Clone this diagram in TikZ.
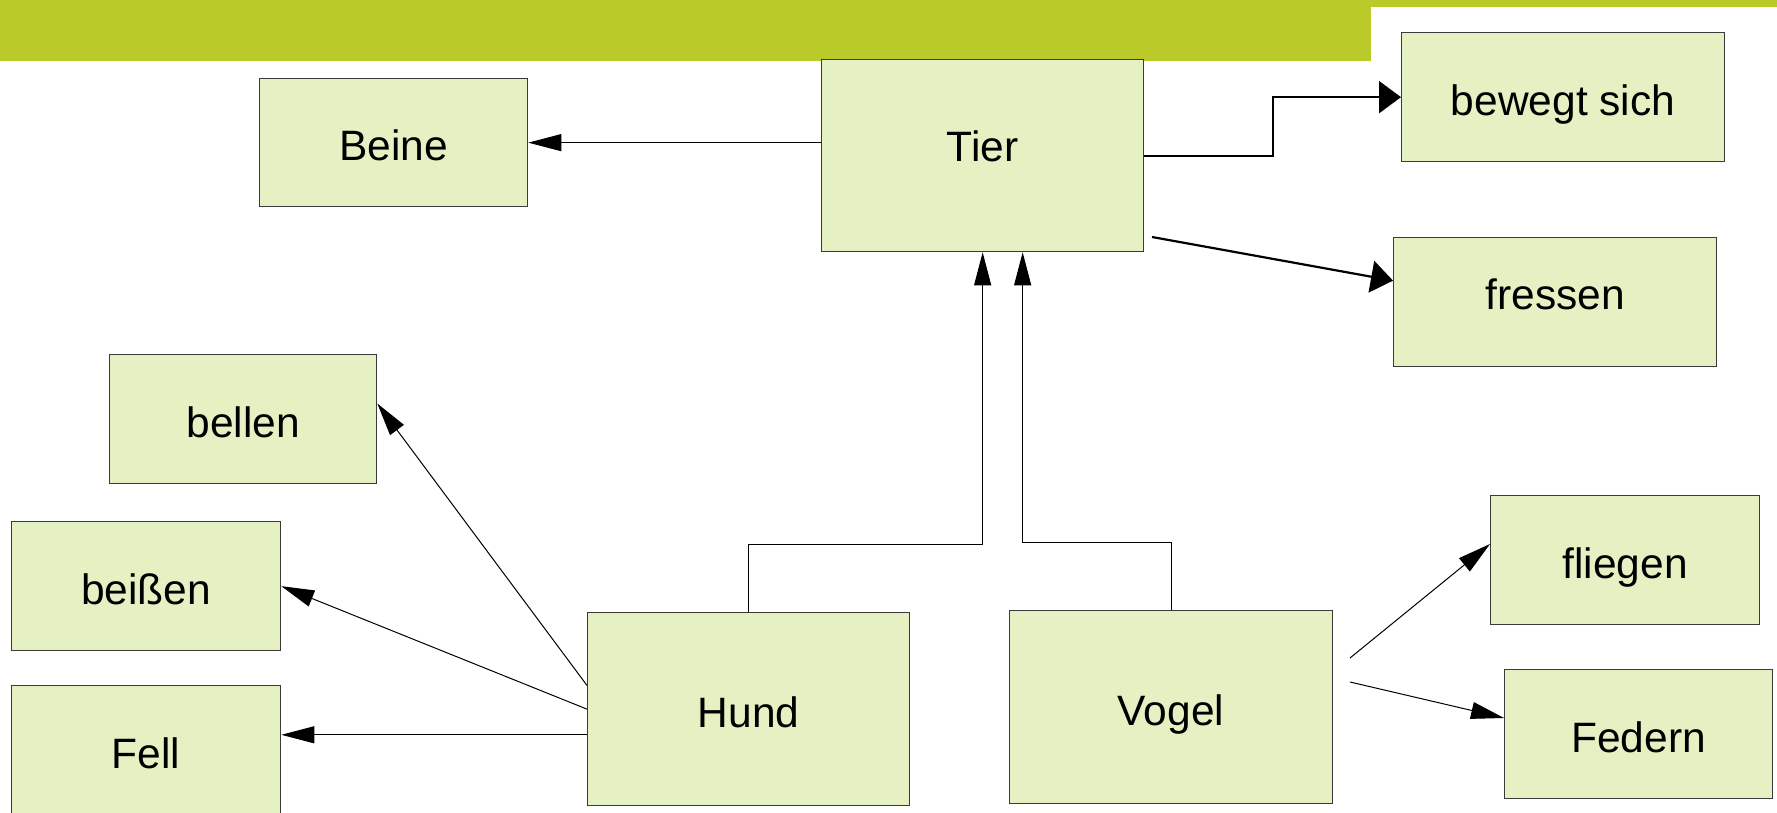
\documentclass[tikz,border=0pt]{standalone}
\usepackage{fontspec}
\setmainfont{Liberation Sans}
\usetikzlibrary{arrows.meta,calc}
\definecolor{bargreen}{HTML}{B9CA29}
\definecolor{boxfill}{HTML}{E5F1C2}
\definecolor{boxline}{HTML}{3A3A3A}
\begin{document}
\begin{tikzpicture}[x=1pt,y=-1pt,
  box/.style={draw=boxline,line width=1.3pt,fill=boxfill,anchor=north west,inner sep=0pt,
    text height=36pt,text depth=0pt,font=\fontsize{42.5pt}{50pt}\selectfont},
  thinarrow/.style={draw=black,line width=1pt,-{Triangle[length=33pt,width=17pt]}},
  thickarrow/.style={draw=black,line width=2.2pt,-{Triangle[length=22pt,width=32pt]}},
  plainline/.style={draw=black,line width=1pt}]
\useasboundingbox (0,0) rectangle (1777,813);
\clip (0,0) rectangle (1777,813);
\fill[white] (0,0) rectangle (1777,813);
\fill[bargreen] (0,0) rectangle (1371,61);
\fill[bargreen] (0,0) rectangle (1777,7);

\node[box,minimum width=268pt,minimum height=128pt] (beine) at (259,78) {Beine};
\node[box,minimum width=322pt,minimum height=192pt] (tier) at (821,59) {\raisebox{12pt}[\height][\depth]{Tier}};
\node[box,minimum width=323pt,minimum height=129pt] (bewegt) at (1401,32) {bewegt sich};
\node[box,minimum width=323pt,minimum height=129pt] (fressen) at (1393,237) {\raisebox{11pt}[\height][\depth]{fressen}};
\node[box,minimum width=267pt,minimum height=129pt] (bellen) at (109,354) {bellen};
\node[box,minimum width=269pt,minimum height=129pt] (beissen) at (11,521) {beißen};
\node[box,minimum width=269pt,minimum height=130pt] (fell) at (11,685) {Fell};
\node[box,minimum width=322pt,minimum height=193pt] (hund) at (587,612) {Hund};
\node[box,minimum width=323pt,minimum height=193pt] (vogel) at (1009,610) {Vogel};
\node[box,minimum width=269pt,minimum height=129pt] (fliegen) at (1490,495) {fliegen};
\node[box,minimum width=268pt,minimum height=129pt] (federn) at (1504,669) {Federn};

% connectors
\draw[thinarrow] (tier.west |- beine.east) -- (beine.east);
\draw[thickarrow] (tier.east) -- ++(129,0) |- (bewegt.west);
\coordinate (tf) at (1152,237);
\draw[thickarrow] (tf) -- ($(fressen.north west)!0.335!(fressen.south west)$);
\draw[thinarrow] (hund.north) -- ++(0,-68) -| (tier.south);
\coordinate (vt) at ($(tier.south)+(40,0)$);
\draw[thinarrow] (vogel.north) -- ++(0,-68) -| (vt);
\draw[thinarrow] ($(hund.north west)!0.378!(hund.south west)$) -- ($(bellen.north east)!0.38!(bellen.south east)$);
\draw[thinarrow] (hund.west) -- (beissen.east);
\coordinate (hf) at ($(hund.north west)!0.632!(hund.south west)$);
\draw[thinarrow] (hf) -- (fell.east |- hf);
\coordinate (vf1) at (1350,658);
\coordinate (vf2) at (1350,682);
\draw[thinarrow] (vf1) -- ($(fliegen.north west)!0.376!(fliegen.south west)$);
\draw[thinarrow] (vf2) -- ($(federn.north west)!0.376!(federn.south west)$);
\end{tikzpicture}
\end{document}
